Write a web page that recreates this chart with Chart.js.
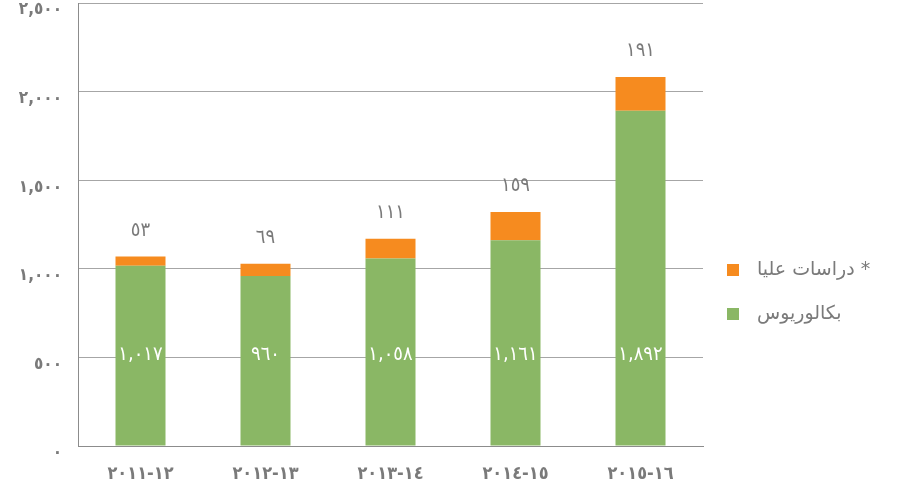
<!DOCTYPE html>
<html lang="ar">
<head>
<meta charset="utf-8">
<title>الطلاب حسب المرحلة</title>
<script src="https://cdn.jsdelivr.net/npm/chart.js@4.4.1/dist/chart.umd.min.js"></script>
<style>
  html, body { margin: 0; padding: 0; background: #ffffff; }
</style>
</head>
<body>
<canvas id="chart" width="908" height="489"></canvas>
<script>
  // academic years (left to right)
  var years = ['٢٠١١-١٢', '٢٠١٢-١٣', '٢٠١٣-١٤', '٢٠١٤-١٥', '٢٠١٥-١٦'];
  // bachelor students (green, bottom of stack)
  var bachelor = [1017, 960, 1058, 1161, 1892];
  // postgraduate students (orange, top of stack)
  var graduate = [53, 69, 111, 159, 191];
  var seriesNames = ['بكالوريوس', '* دراسات عليا'];
  var yMin = 0, yMax = 2500, yStep = 500;

  var GREEN = '#8ab765';
  var ORANGE = '#f68b1f';
  var TEXT = '#7a7a7a';
  var FONT = '"DejaVu Sans Condensed", "DejaVu Sans", sans-serif';

  function toArabic(n) {
    return n.toLocaleString('en-US').replace(/\d/g, function (d) {
      return '٠١٢٣٤٥٦٧٨٩'.charAt(+d);
    });
  }
  // keep digit strings left-to-right
  function ltr(s) { return '\u202D' + s + '\u202C'; }

  var valueLabels = {
    id: 'valueLabels',
    afterDatasetsDraw: function (chart) {
      var ctx = chart.ctx;
      var base = chart.scales.y.getPixelForValue(0);
      ctx.save();
      ctx.textAlign = 'center';
      ctx.textBaseline = 'middle';
      ctx.font = '20px ' + FONT;
      chart.getDatasetMeta(0).data.forEach(function (bar, i) {
        ctx.fillStyle = '#ffffff';
        ctx.fillText(ltr(toArabic(bachelor[i])), bar.x, base - 91);
      });
      chart.getDatasetMeta(1).data.forEach(function (bar, i) {
        ctx.fillStyle = TEXT;
        ctx.fillText(ltr(toArabic(graduate[i])), bar.x, bar.y - 26);
      });
      ctx.restore();
    }
  };

  var sideLegend = {
    id: 'sideLegend',
    afterDraw: function (chart) {
      var ctx = chart.ctx;
      var sets = chart.data.datasets;
      var x = chart.chartArea.right + 24;
      var y = 270;
      ctx.save();
      ctx.font = '19px "DejaVu Sans", sans-serif';
      ctx.textBaseline = 'middle';
      ctx.textAlign = 'left';
      for (var i = sets.length - 1; i >= 0; i--) {
        ctx.fillStyle = sets[i].backgroundColor;
        ctx.fillRect(x, y - 6, 12, 12);
        ctx.fillStyle = TEXT;
        ctx.fillText('\u200F' + sets[i].label, x + 30, y);
        y += 44;
      }
      ctx.restore();
    }
  };

  new Chart(document.getElementById('chart'), {
    type: 'bar',
    data: {
      labels: years.map(ltr),
      datasets: [
        { label: seriesNames[0], data: bachelor, backgroundColor: GREEN },
        { label: seriesNames[1], data: graduate, backgroundColor: ORANGE }
      ]
    },
    options: {
      responsive: false,
      animation: false,
      layout: { padding: { top: 3, right: 205, left: 0, bottom: 0 } },
      datasets: { bar: { categoryPercentage: 1, barPercentage: 0.4 } },
      plugins: {
        legend: { display: false },
        tooltip: { enabled: false }
      },
      scales: {
        x: {
          stacked: true,
          grid: { display: false },
          border: { color: '#8c8c8c', width: 1 },
          ticks: { color: TEXT, padding: 10, font: { family: FONT, size: 18, weight: 'bold' } },
          afterFit: function (scale) { scale.height = 43; }
        },
        y: {
          stacked: true,
          min: yMin,
          max: yMax,
          grid: { color: '#a6a6a6', lineWidth: 1, drawTicks: false },
          border: { color: '#8c8c8c', width: 1 },
          ticks: {
            stepSize: yStep,
            color: TEXT,
            padding: 16,
            labelOffset: 7,
            font: { family: FONT, size: 17, weight: 'bold' },
            callback: function (v) { return ltr(toArabic(v)); }
          },
          afterFit: function (scale) {
            scale.width = 78;
            scale.paddingTop = 0;
            scale.paddingBottom = 0;
          }
        }
      }
    },
    plugins: [valueLabels, sideLegend]
  });
</script>
</body>
</html>
